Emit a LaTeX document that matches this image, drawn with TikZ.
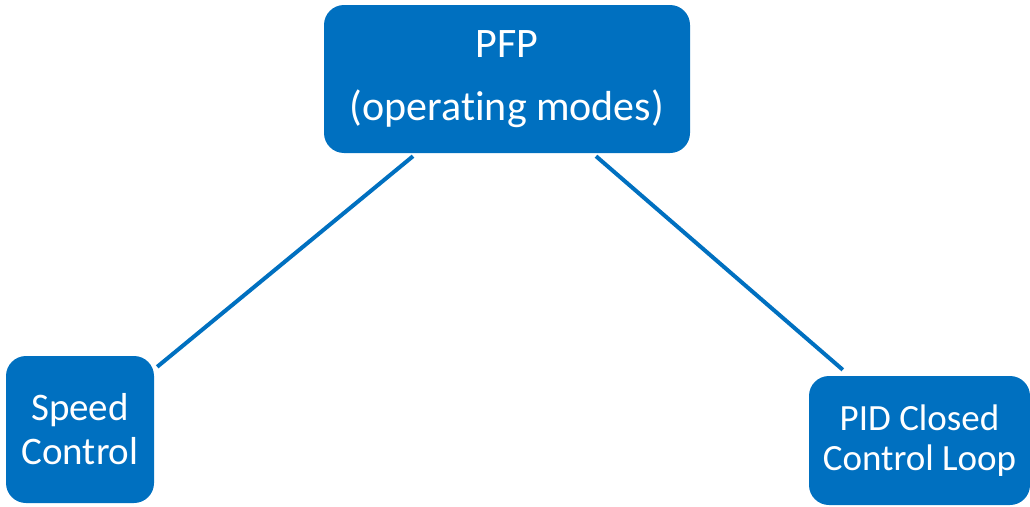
\documentclass[tikz,border=0pt]{standalone}
\usepackage{fontspec}
\setmainfont{Carlito}[Ligatures={NoCommon}]
\usepackage{tikz}
\definecolor{modeblue}{HTML}{0070C0}

\begin{document}
\begin{tikzpicture}[x=1pt,y=1pt,
    modebox/.style={fill=modeblue, rounded corners=20pt, text=white,
      align=center, inner sep=0pt},
    link/.style={draw=modeblue, line width=4pt}]

\useasboundingbox (0,0) rectangle (1030,-506);

\node[modebox, minimum width=366pt, minimum height=148pt,
  font=\fontsize{42}{63}\selectfont] (pfp) at (507,-79)
  {PFP\\(operating modes)};
\node[modebox, minimum width=148pt, minimum height=147pt,
  font=\fontsize{39}{44}\selectfont] (speed) at (80,-429.5)
  {Speed\\Control};
\node[modebox, minimum width=221pt, minimum height=129pt,
  font=\fontsize{37}{40}\selectfont] (pid) at (919.5,-440.5)
  {PID Closed\\Control Loop};

\draw[link] ([xshift=-94pt,yshift=-3pt]pfp.south) -- ([xshift=3pt,yshift=-11pt]speed.north east);
\draw[link] ([xshift=89pt,yshift=-3pt]pfp.south) -- ([xshift=34pt,yshift=6pt]pid.north west);

\end{tikzpicture}
\end{document}
